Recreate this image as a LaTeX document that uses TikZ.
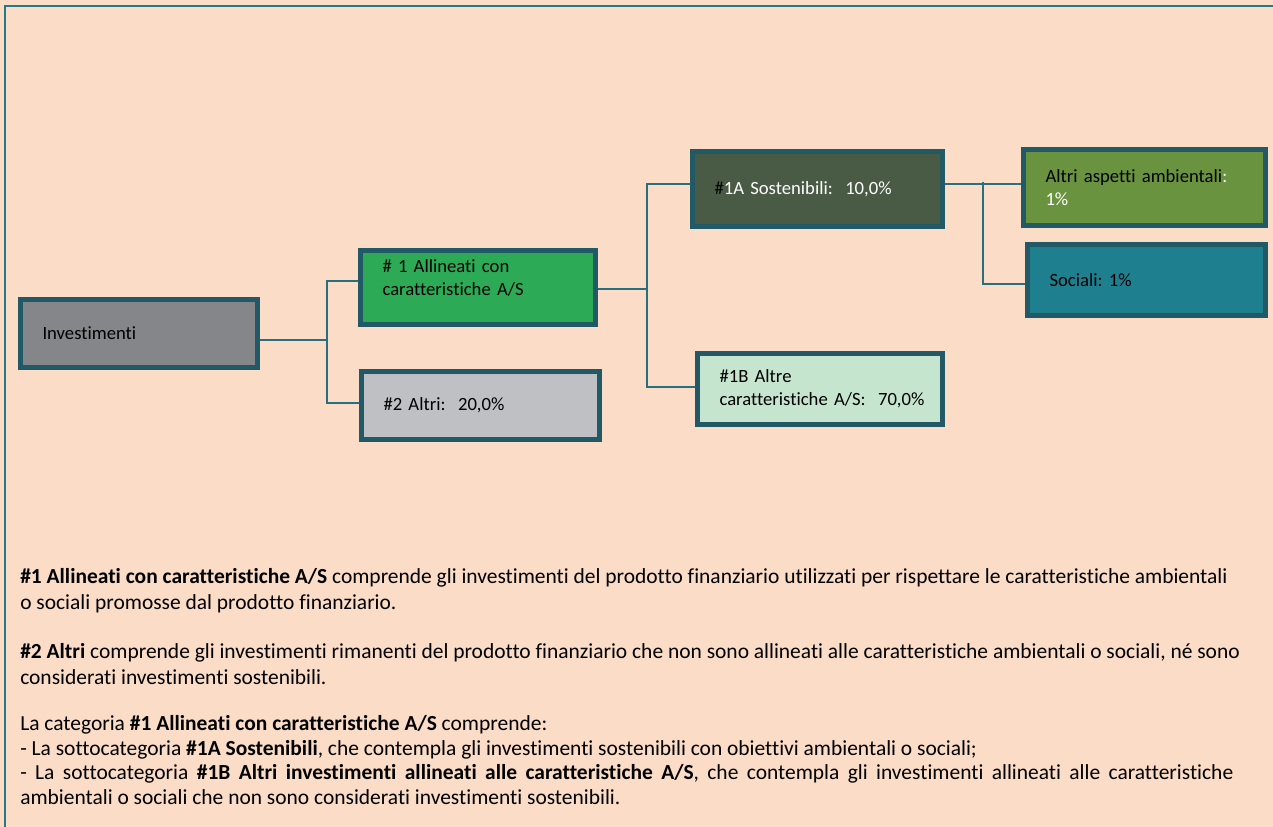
\documentclass[tikz,border=0pt]{standalone}
\usepackage{fontspec}
\setmainfont{Carlito}[Ligatures=NoCommon]
\usepackage{tikz}

\definecolor{peach}{RGB}{250,220,199}
\definecolor{frameteal}{RGB}{33,122,138}
\definecolor{boxedge}{RGB}{33,89,102}
\definecolor{linkteal}{RGB}{40,112,128}
\definecolor{invgray}{RGB}{133,134,137}
\definecolor{algreen}{RGB}{45,170,85}
\definecolor{altrigray}{RGB}{191,192,196}
\definecolor{sostgreen}{RGB}{74,91,69}
\definecolor{altregreen}{RGB}{198,229,207}
\definecolor{ambgreen}{RGB}{106,147,64}
\definecolor{socteal}{RGB}{30,127,143}

\begin{document}
\begin{tikzpicture}[x=0.75pt,y=-0.75pt,
  box/.style={draw=boxedge, line width=3.75pt, inner xsep=16.5pt, align=left,
    font=\fontsize{14}{17.25}\selectfont\frenchspacing},
  link/.style={draw=linkteal, line width=1.2pt},
  para/.style={anchor=north west, inner sep=0pt, align=left,
    font=\fontsize{16.1}{19.5}\selectfont\frenchspacing}]

\fill[peach] (0,0) rectangle (1273,827);
\useasboundingbox (0,0) rectangle (1273,827);
\draw[frameteal, line width=1.6pt]
(5,827) -- (5,6) -- (1273,6);

% the tree
\node[box, fill=invgray, text width=144.75pt, minimum height=51pt] (inv) at (139,333.5)
  {Investimenti};
\node[box, fill=algreen, text width=143.25pt, minimum height=55.5pt] (al) at (478,287.5)
  {\# 1 Allineati con\\caratteristiche A/S\\[-3pt]\mbox{}};
\node[box, fill=altrigray, text width=145.5pt, minimum height=51pt] (altri) at (480.5,405.5)
  {\#2 Altri:~~20,0\%};
\node[box, fill=sostgreen, text=white, text width=154.5pt, minimum height=56.25pt] (sost) at (817.5,189)
  {{\color{black}\#}1A Sostenibili:~~10,0\%};
\node[box, fill=altregreen, text width=150.75pt, minimum height=53.25pt] (altre) at (820,389)
  {\#1B Altre\\\mbox{caratteristiche A/S:~~70,0\%}};
\node[box, fill=ambgreen, text width=148.5pt, minimum height=57pt] (amb) at (1144.5,187.5)
  {Altri aspetti ambientali{\color{white}:}\\{\color{white}1\%}};
\node[box, fill=socteal, text width=145.5pt, minimum height=53.25pt] (soc) at (1146.5,280)
  {Sociali: 1\%};

\coordinate (t1) at (327,340);
\coordinate (t1a) at (327,281);
\coordinate (t1b) at (327,403);
\coordinate (t2) at (647,289);
\coordinate (t2a) at (647,184);
\coordinate (t2b) at (647,387);
\coordinate (t3a) at (983,182);
\coordinate (t3b) at (983,284);

\draw[link] (inv.east |- t1) -- (t1);
\draw[link] (al.west |- t1a) -- (t1a) -- (t1b) -- (altri.west |- t1b);
\draw[link] (al.east |- t2) -- (t2);
\draw[link] (sost.west |- t2a) -- (t2a) -- (t2b) -- (altre.west |- t2b);
\draw[link] (sost.east |- t2a) -- (amb.west |- t2a);
\draw[link] (t3a) -- (t3b) -- (soc.west |- t3b);

% notes under the tree
\node[para] (p1) at (20,568)
  {\textbf{\#1 Allineati con caratteristiche A/S} comprende gli investimenti del prodotto finanziario utilizzati per rispettare le caratteristiche ambientali\\
   o sociali promosse dal prodotto finanziario.};
\node[para] (p2) at (20,643)
  {\textbf{\#2 Altri} comprende gli investimenti rimanenti del prodotto finanziario che non sono allineati alle caratteristiche ambientali o sociali, né sono\\
   considerati investimenti sostenibili.};
\node[para, font=\fontsize{16.1}{18.5}\selectfont\frenchspacing] (p3) at (20,715)
  {La categoria \textbf{\#1 Allineati con caratteristiche A/S} comprende:\\
   - La sottocategoria \textbf{\#1A Sostenibili}, che contempla gli investimenti sostenibili con obiettivi ambientali o sociali;\\
   \makebox[909.75pt][s]{- La sottocategoria \textbf{\#1B Altri investimenti allineati alle caratteristiche A/S}, che contempla gli investimenti allineati alle caratteristiche}\\
   ambientali o sociali che non sono considerati investimenti sostenibili.};

\end{tikzpicture}
\end{document}
